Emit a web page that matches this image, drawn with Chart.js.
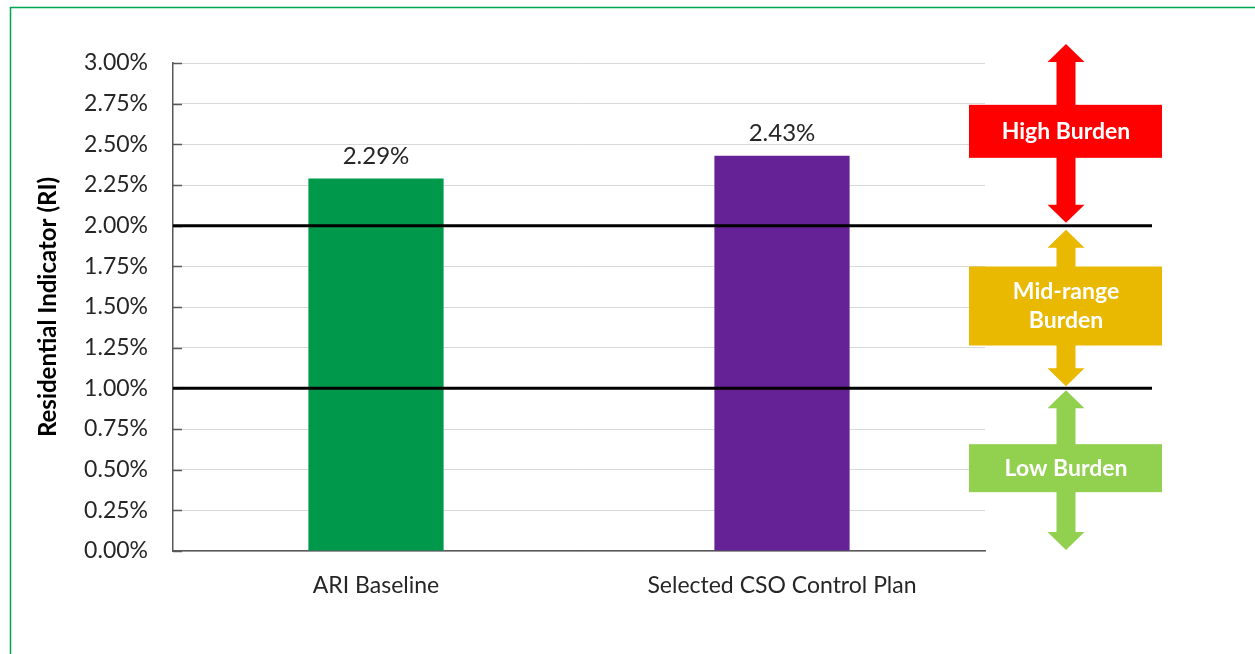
<!DOCTYPE html>
<html>
<head>
<meta charset="utf-8">
<script src="https://cdn.jsdelivr.net/npm/chart.js@4"></script>
<style>
html,body{margin:0;padding:0;background:#fff;}
#wrap{width:1255px;height:654px;position:relative;}
</style>
</head>
<body>
<div id="wrap"><canvas id="c" width="1255" height="654"></canvas></div>
<script>
const categories = ['ARI Baseline', 'Selected CSO Control Plan'];
const riValues = [2.29, 2.43];
const barColors = ['#00994C', '#652196'];
const yTicks = [0, 0.25, 0.5, 0.75, 1, 1.25, 1.5, 1.75, 2, 2.25, 2.5, 2.75, 3];
const thresholds = [2.0, 1.0];
const bandLabels = [['High Burden'], ['Mid-range', 'Burden'], ['Low Burden']];
const bandRanges = [[2, 3], [1, 2], [0, 1]];
const bandColors = ['#FF0000', '#E9B800', '#92D050'];

const FONT = 'Lato, "Open Sans", sans-serif';

function dblArrow(ctx, cx, yTop, yBot, shaftW, headW, headH, color) {
  ctx.fillStyle = color;
  ctx.beginPath();
  ctx.moveTo(cx, yTop);
  ctx.lineTo(cx + headW / 2, yTop + headH);
  ctx.lineTo(cx + shaftW / 2, yTop + headH);
  ctx.lineTo(cx + shaftW / 2, yBot - headH);
  ctx.lineTo(cx + headW / 2, yBot - headH);
  ctx.lineTo(cx, yBot);
  ctx.lineTo(cx - headW / 2, yBot - headH);
  ctx.lineTo(cx - shaftW / 2, yBot - headH);
  ctx.lineTo(cx - shaftW / 2, yTop + headH);
  ctx.lineTo(cx - headW / 2, yTop + headH);
  ctx.closePath();
  ctx.fill();
}

const overlay = {
  id: 'overlay',
  afterDatasetsDraw(chart) {
    const ctx = chart.ctx;
    const y = chart.scales.y;
    const area = chart.chartArea;
    ctx.save();
    // inside tick marks
    ctx.strokeStyle = '#595959';
    ctx.lineWidth = 1.5;
    yTicks.forEach(v => {
      const py = Math.round(y.getPixelForValue(v)) + 0.5;
      ctx.beginPath();
      ctx.moveTo(area.left, py);
      ctx.lineTo(area.left + 9, py);
      ctx.stroke();
    });
    // value labels
    ctx.fillStyle = '#262626';
    ctx.font = '24px ' + FONT;
    ctx.textAlign = 'center';
    ctx.textBaseline = 'bottom';
    const meta = chart.getDatasetMeta(0);
    meta.data.forEach((bar, i) => {
      ctx.fillText(riValues[i].toFixed(2) + '%', bar.x, bar.y - 10);
    });
    // arrows and boxes
    const cx = 1066;
    const offs = [[-19, -3], [4, -2], [2, -1]];
    const boxH = [53, 79, 48];
    bandRanges.forEach((r, i) => {
      const top = y.getPixelForValue(r[1]) + offs[i][0];
      const bot = y.getPixelForValue(r[0]) + offs[i][1];
      dblArrow(ctx, cx, top, bot, 19, 37, 18, bandColors[i]);
      const mid = (top + bot) / 2 - 2;
      ctx.fillStyle = bandColors[i];
      ctx.fillRect(969, mid - boxH[i] / 2, 193, boxH[i]);
      ctx.fillStyle = '#ffffff';
      ctx.font = 'bold 23px ' + FONT;
      ctx.textBaseline = 'middle';
      const lines = bandLabels[i];
      lines.forEach((t, k) => {
        ctx.fillText(t, cx, mid + (k - (lines.length - 1) / 2) * 29);
      });
    });
    // threshold lines
    ctx.strokeStyle = '#000000';
    ctx.lineWidth = 3;
    thresholds.forEach(v => {
      const py = y.getPixelForValue(v);
      ctx.beginPath();
      ctx.moveTo(area.left, py);
      ctx.lineTo(1152, py);
      ctx.stroke();
    });
    // outer frame
    ctx.strokeStyle = '#00A550';
    ctx.lineWidth = 1.5;
    ctx.beginPath();
    ctx.moveTo(10.5, 654);
    ctx.lineTo(10.5, 7.5);
    ctx.lineTo(1255, 7.5);
    ctx.stroke();
    ctx.restore();
  }
};

new Chart(document.getElementById('c'), {
  type: 'bar',
  data: {
    labels: categories,
    datasets: [{
      data: riValues,
      backgroundColor: barColors,
      categoryPercentage: 1,
      barPercentage: 0.333
    }]
  },
  options: {
    responsive: false,
    animation: false,
    layout: { padding: { left: 34, right: 270, top: 63, bottom: 0 } },
    plugins: { legend: { display: false }, tooltip: { enabled: false } },
    scales: {
      x: {
        grid: { display: false, drawTicks: false },
        border: { color: '#595959', width: 1.5 },
        ticks: { color: '#262626', font: { family: FONT, size: 23 }, padding: 21 },
        afterFit(s) { s.height = 103; }
      },
      y: {
        min: 0, max: 3,
        afterBuildTicks(s) { s.ticks = yTicks.map(v => ({ value: v })); },
        grid: { color: '#D9D9D9', lineWidth: 1, drawTicks: false },
        border: { color: '#595959', width: 1.5 },
        ticks: {
          color: '#262626',
          font: { family: FONT, size: 23 },
          padding: 25,
          callback: v => v.toFixed(2) + '%'
        },
        title: {
          display: true,
          text: 'Residential Indicator (RI)',
          color: '#000000',
          font: { family: FONT, size: 24, weight: 'bold' },
          padding: 0
        },
        afterFit(s) { s.width = 139; }
      }
    }
  },
  plugins: [overlay]
});
</script>
</body>
</html>
